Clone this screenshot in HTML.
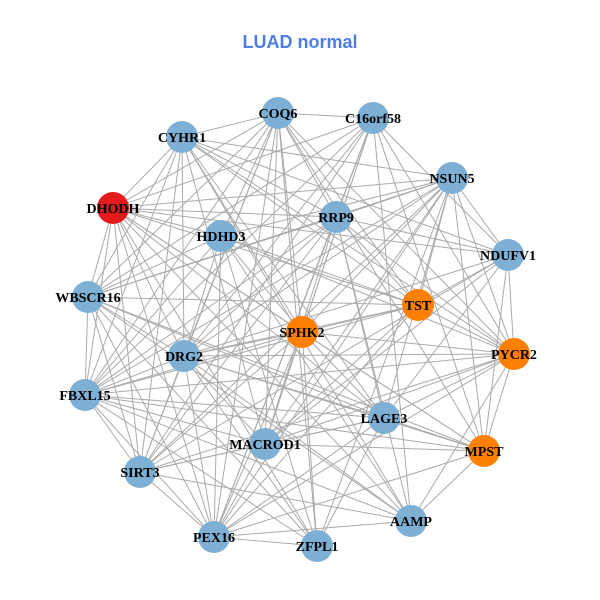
<!DOCTYPE html>
<html><head><meta charset="utf-8"><style>
html,body{margin:0;padding:0;background:#fff;}
svg{display:block;}
</style></head><body>
<svg id="g" width="600" height="600" xmlns="http://www.w3.org/2000/svg">
<text x="300" y="48" text-anchor="middle" font-family="Liberation Sans, sans-serif" font-weight="bold" font-size="18" fill="#4F7EE3">LUAD normal</text>
<g id="edges" stroke="#aaaaaa" stroke-width="1"></g>
<g id="nodes"></g>
<g font-family="Liberation Serif, serif" font-weight="bold" font-size="14" text-anchor="middle" fill="#000">
<text x="278" y="118">COQ6</text>
<text x="373" y="123">C16orf58</text>
<text x="182" y="142">CYHR1</text>
<text x="452" y="183">NSUN5</text>
<text x="113" y="213">DHODH</text>
<text x="336" y="222">RRP9</text>
<text x="221" y="241">HDHD3</text>
<text x="508" y="260">NDUFV1</text>
<text x="88" y="302">WBSCR16</text>
<text x="418" y="310">TST</text>
<text x="302" y="337">SPHK2</text>
<text x="184" y="361">DRG2</text>
<text x="514" y="359">PYCR2</text>
<text x="85" y="400">FBXL15</text>
<text x="384" y="423">LAGE3</text>
<text x="265" y="449">MACROD1</text>
<text x="484" y="456">MPST</text>
<text x="140" y="477">SIRT3</text>
<text x="411" y="526">AAMP</text>
<text x="214" y="542">PEX16</text>
<text x="317" y="551">ZFPL1</text>
</g>
</svg>
<script>
var N=[[278,113,0],[373,118,0],[182,137,0],[452,178,0],[113,208,2],[336,217,0],[221,236,0],[508,255,0],[88,297,0],[418,305,1],[302,332,1],[184,356,0],[514,354,1],[85,395,0],[384,418,0],[265,444,0],[484,451,1],[140,472,0],[411,521,0],[214,537,0],[317,546,0]];
var C=["#7EB0D5","#FF7F00","#E41A1C"];
var ns="http://www.w3.org/2000/svg";
var E=document.getElementById("edges"),G=document.getElementById("nodes");
var s=7;function r(){s=(s*9301+49297)%233280;return s/233280;}
for(var i=0;i<N.length;i++)for(var j=i+1;j<N.length;j++){
 if(r()<0.22)continue;
 var l=document.createElementNS(ns,"line");
 l.setAttribute("x1",N[i][0]);l.setAttribute("y1",N[i][1]);
 l.setAttribute("x2",N[j][0]);l.setAttribute("y2",N[j][1]);E.appendChild(l);}
for(var i=0;i<N.length;i++){var c=document.createElementNS(ns,"circle");
 c.setAttribute("cx",N[i][0]);c.setAttribute("cy",N[i][1]);c.setAttribute("r",16);
 c.setAttribute("fill",C[N[i][2]]);G.appendChild(c);}
</script>
</body></html>
